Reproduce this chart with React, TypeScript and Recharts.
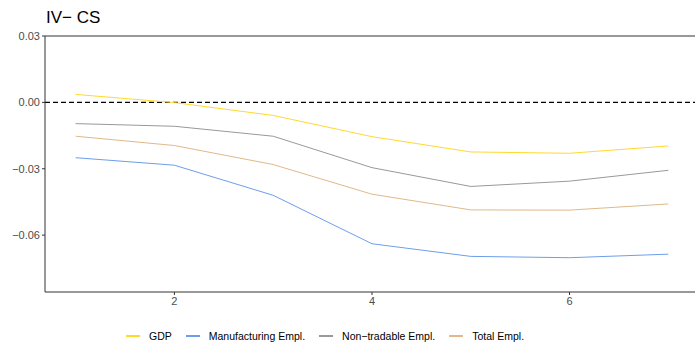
import {
  LineChart,
  Line,
  XAxis,
  YAxis,
  ReferenceLine,
  Legend,
} from 'recharts';

const HORIZON = [1, 2, 3, 4, 5, 6, 7];
const GDP = [0.0036, -0.0001, -0.0059, -0.0155, -0.0224, -0.023, -0.0197];
const MANUF = [-0.025, -0.0284, -0.042, -0.0639, -0.0696, -0.0702, -0.0686];
const NONTRADE = [-0.0096, -0.0108, -0.0153, -0.0295, -0.038, -0.0356, -0.0307];
const TOTAL = [-0.0153, -0.0195, -0.0281, -0.0415, -0.0486, -0.0487, -0.0459];
const X_TICKS = [2, 4, 6];
const Y_TICKS = [0.03, 0, -0.03, -0.06];

const SERIES = [
  { key: 'gdp', label: 'GDP', color: '#FFD92F' },
  { key: 'manuf', label: 'Manufacturing Empl.', color: '#6D9EEB' },
  { key: 'nontrade', label: 'Non\u2212tradable Empl.', color: '#999999' },
  { key: 'total', label: 'Total Empl.', color: '#E0B98B' },
];

const data = HORIZON.map((h, i) => ({
  h,
  gdp: GDP[i],
  manuf: MANUF[i],
  nontrade: NONTRADE[i],
  total: TOTAL[i],
}));

const fmtY = (v: number) => {
  const s = Math.abs(v).toFixed(2);
  return v < 0 ? `\u2212${s}` : s;
};

const tickStyle = { fill: '#4D4D4D', fontSize: 11, fontFamily: 'Liberation Sans, Arial, sans-serif' };

function LegendRow() {
  return (
    <div style={{ display: 'flex', alignItems: 'center', height: 16, fontSize: 10.5, color: '#000', fontFamily: 'Liberation Sans, Arial, sans-serif' }}>
      {SERIES.map((s) => (
        <div key={s.key} style={{ display: 'flex', alignItems: 'center', marginRight: 14 }}>
          <span style={{ width: 14, height: 1.2, background: s.color, display: 'inline-block', marginRight: 9 }} />
          <span>{s.label}</span>
        </div>
      ))}
    </div>
  );
}

export default function App() {
  return (
    <div style={{ position: 'absolute', left: 0, top: 0, width: 695, height: 342, background: '#fff' }}>
      <div
        style={{
          position: 'absolute',
          left: 46,
          top: 8,
          fontSize: 17,
          fontFamily: 'Liberation Sans, Arial, sans-serif',
          color: '#000',
          lineHeight: '20px',
        }}
      >
        IV{'\u2212'} CS
      </div>
      <LineChart width={695} height={342} data={data} margin={{ top: 36, right: 0, left: 0, bottom: 0 }}>
        <XAxis
          dataKey="h"
          type="number"
          domain={[0.69, 7.27]}
          ticks={X_TICKS}
          allowDataOverflow
          height={34}
          stroke="#333"
          tickLine={{ stroke: '#333' }}
          tickSize={3}
          tick={tickStyle}
        />
        <YAxis
          type="number"
          domain={[-0.0857, 0.03]}
          ticks={Y_TICKS}
          allowDataOverflow
          width={45}
          stroke="#333"
          tickLine={{ stroke: '#333' }}
          tickSize={3}
          tickFormatter={fmtY}
          tick={tickStyle}
        />
        <ReferenceLine y={0.03} stroke="#333" strokeWidth={1} />
        <ReferenceLine y={0} stroke="#000" strokeWidth={1.1} strokeDasharray="5 3" />
        {SERIES.map((s) => (
          <Line
            key={s.key}
            dataKey={s.key}
            name={s.label}
            stroke={s.color}
            strokeWidth={1}
            dot={false}
            type="linear"
            isAnimationActive={false}
          />
        ))}
        <Legend
          layout="horizontal"
          verticalAlign="bottom"
          align="center"
          height={16}
          content={() => <LegendRow />}
          wrapperStyle={{ left: 126, top: 328, width: 520 }}
        />
      </LineChart>
    </div>
  );
}
